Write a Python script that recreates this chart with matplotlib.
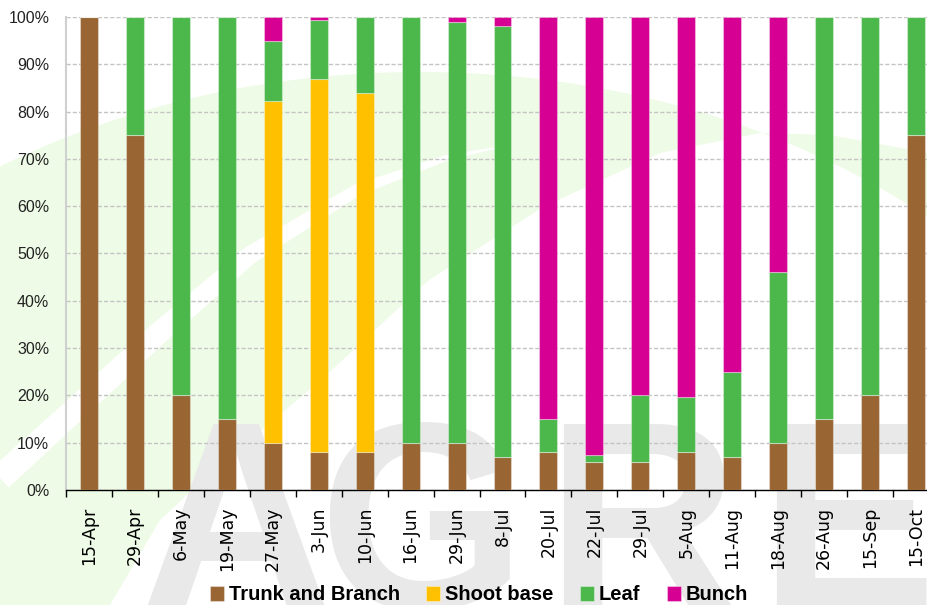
import matplotlib
matplotlib.use("Agg")
import matplotlib.pyplot as plt
import numpy as np
from matplotlib.path import Path
from matplotlib.patches import PathPatch, Polygon

# sampling dates
dates = ["15-Apr", "29-Apr", "6-May", "19-May", "27-May", "3-Jun", "10-Jun",
         "16-Jun", "29-Jun", "8-Jul", "20-Jul", "22-Jul", "29-Jul", "5-Aug",
         "11-Aug", "18-Aug", "26-Aug", "15-Sep", "15-Oct"]

# share of each organ (%)
trunk_branch = [100, 75, 20, 15, 10, 8, 8, 10, 10, 7, 8, 6, 6, 8, 7, 10, 15, 20, 75]
shoot_base = [0, 0, 0, 0, 72.3, 78.8, 75.9, 0, 0, 0, 0, 0, 0, 0, 0, 0, 0, 0, 0]
leaf = [0, 25, 80, 85, 12.7, 12.5, 16.1, 90, 89, 91, 7, 1.5, 14, 11.7, 18, 36, 85, 80, 25]
bunch = [0, 0, 0, 0, 5, 0.7, 0, 0, 1, 2, 85, 92.5, 80, 80.3, 75, 54, 0, 0, 0]

series = [("Trunk and Branch", trunk_branch, "#996633"),
          ("Shoot base", shoot_base, "#FFC000"),
          ("Leaf", leaf, "#4CB84C"),
          ("Bunch", bunch, "#D60093")]

W, H = 928, 605
fig = plt.figure(figsize=(W / 100, H / 100), dpi=100)


# %% == background watermark (pixel coords, y measured from the top) ==
def to_fig(pts):
    pts = np.asarray(pts, dtype=float)
    return np.column_stack([pts[:, 0] / W, 1 - pts[:, 1] / H])


# outer arc of the leaf logo
xs = np.linspace(-20, 1000, 80)
outer_top = 640 - 568 * np.sqrt(np.clip(1 - ((xs - 420) / 760) ** 2, 0, 1))
reg_a = [(x, y) for x, y in zip(xs, outer_top)] + [(1000, 700), (-20, 700)]
# inner arc (drawn the other way round so the overlap becomes a hole)
inner_pts = [(80, 700), (110, 605), (160, 520), (214, 470), (321, 380), (429, 280),
             (543, 207), (660, 153), (760, 133), (830, 135), (928, 153), (1000, 175)]
reg_b = inner_pts + [(1000, 700)]
reg_b = reg_b[::-1]

verts = list(to_fig(reg_a)) + [to_fig(reg_a)[0]] + list(to_fig(reg_b)) + [to_fig(reg_b)[0]]
codes = ([Path.MOVETO] + [Path.LINETO] * (len(reg_a) - 1) + [Path.CLOSEPOLY]
         + [Path.MOVETO] + [Path.LINETO] * (len(reg_b) - 1) + [Path.CLOSEPOLY])
leaf_patch = PathPatch(Path(verts, codes), facecolor="#EEFBE6", edgecolor="none",
                       transform=fig.transFigure, zorder=-3)
fig.patches.append(leaf_patch)

# white stripe inside the logo
centre = np.array([(0, 478), (80, 405), (160, 332), (250, 255), (357, 190),
                   (446, 158), (500, 147)], dtype=float)
half_w = np.array([13, 12, 11, 9, 6, 3, 0.5])
d = np.gradient(centre, axis=0)
nrm = np.column_stack([-d[:, 1], d[:, 0]])
nrm /= np.linalg.norm(nrm, axis=1)[:, None]
stripe = np.vstack([centre + nrm * half_w[:, None], (centre - nrm * half_w[:, None])[::-1]])
fig.patches.append(Polygon(to_fig(stripe), closed=True, facecolor="white",
                           edgecolor="none", transform=fig.transFigure, zorder=-2))

# grey letters
for letter, x_px, ha in [("A", 236, "center"), ("G", 318, "left"),
                         ("R", 545, "left"), ("E", 758, "left")]:
    fig.text(x_px / W, 1 - 608 / H, letter, ha=ha, va="baseline", fontsize=192,
             fontweight="bold", family="Liberation Sans", color="#E8E9E8", zorder=-1)

# %% == stacked bars ==
ax = fig.add_axes([66 / W, 1 - 490 / H, 873 / W, 473 / H])
ax.patch.set_alpha(0)

x = np.arange(len(dates))
bottom = np.zeros(len(dates))
handles = []
for name, vals, color in series:
    vals = np.asarray(vals, dtype=float)
    b = ax.bar(x, vals, width=0.39, bottom=bottom, color=color, label=name,
               edgecolor=(1, 1, 1, 0.35), linewidth=0.8, zorder=3)
    handles.append(b)
    bottom += vals

ax.set_xlim(-0.5, len(dates) - 0.5)
ax.set_ylim(0, 100)
ax.set_yticks(np.arange(0, 101, 10))
ax.set_yticklabels([f"{v}%" for v in range(0, 101, 10)], family="Liberation Sans",
                   fontsize=11.5)
ax.tick_params(axis="y", length=0, pad=12, labelcolor="#222222")
ax.grid(axis="y", color="#C4C4C4", linestyle=(0, (3, 1.5)), linewidth=1, zorder=1)

ax.set_xticks(np.arange(-0.5, len(dates), 1))
ax.set_xticklabels([])
ax.set_xticks(x, minor=True)
ax.set_xticklabels(dates, minor=True, rotation=90, fontsize=12.5, color="black")
ax.tick_params(axis="x", which="major", length=5, width=1, color="black", direction="out")
ax.tick_params(axis="x", which="minor", length=0, pad=12)

for s in ["top", "right"]:
    ax.spines[s].set_visible(False)
ax.spines["left"].set_color("#D0D0D0")
ax.spines["left"].set_linewidth(1.5)
ax.spines["bottom"].set_color("black")
ax.spines["bottom"].set_linewidth(1)

leg = fig.legend(handles=handles, loc="center", bbox_to_anchor=(479 / W, 1 - 595 / H),
                 ncol=4, frameon=False, handlelength=0.7, handleheight=0.7,
                 handletextpad=0.25, columnspacing=1.3,
                 prop={"family": "Liberation Sans", "weight": "bold", "size": 14.5})

fig.savefig("out.png", dpi=100)
